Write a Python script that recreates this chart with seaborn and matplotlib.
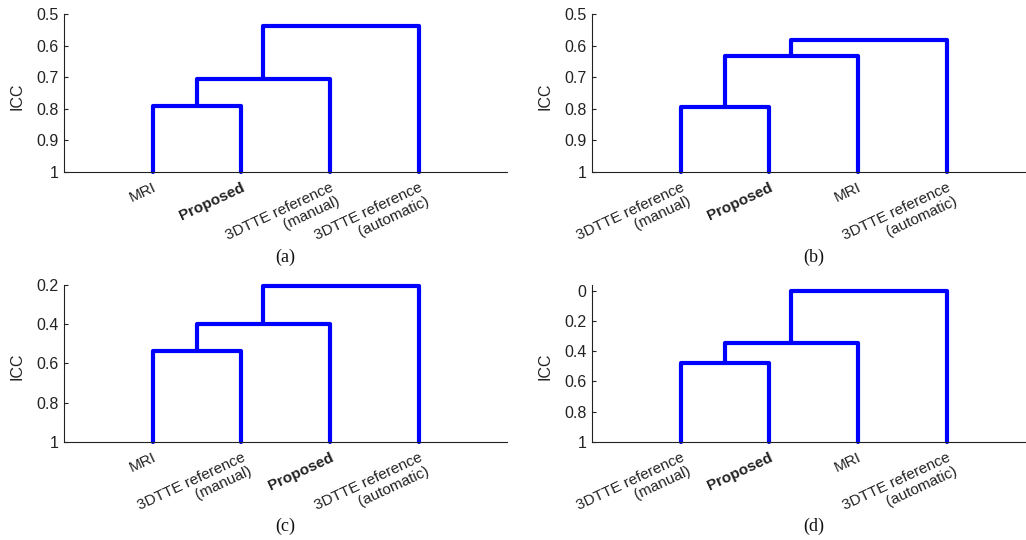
import matplotlib
matplotlib.use('Agg')
import matplotlib.pyplot as plt
import numpy as np
import pandas as pd
import seaborn as sns

sns.set_theme(style='white')
plt.rcParams['font.family'] = ['Liberation Sans', 'DejaVu Sans']

# Leaf labels of each dendrogram (left to right)
labels_a = ['MRI', 'Proposed', '3DTTE reference\n(manual)', '3DTTE reference\n(automatic)']
labels_b = ['3DTTE reference\n(manual)', 'Proposed', 'MRI', '3DTTE reference\n(automatic)']
labels_c = ['MRI', '3DTTE reference\n(manual)', 'Proposed', '3DTTE reference\n(automatic)']
labels_d = ['3DTTE reference\n(manual)', 'Proposed', 'MRI', '3DTTE reference\n(automatic)']

# Merge heights (ICC) : leaf0+leaf1, then +leaf2, then +leaf3
icc_a = [0.792, 0.706, 0.537]
icc_b = [0.795, 0.634, 0.583]
icc_c = [0.535, 0.399, 0.203]
icc_d = [0.477, 0.347, 0.0]

# y-axis ticks per panel
ticks_ab = [0.5, 0.6, 0.7, 0.8, 0.9, 1.0]
ticklabels_ab = ['0.5', '0.6', '0.7', '0.8', '0.9', '1']
ticks_c = [0.2, 0.4, 0.6, 0.8, 1.0]
ticklabels_c = ['0.2', '0.4', '0.6', '0.8', '1']
ticks_d = [0.0, 0.2, 0.4, 0.6, 0.8, 1.0]
ticklabels_d = ['0', '0.2', '0.4', '0.6', '0.8', '1']

captions = ['(a)', '(b)', '(c)', '(d)']


def dendro_segments(heights):
    # chain linkage: (0,1) -> (c,2) -> (c,3); leaves sit at x = 1..4, base ICC = 1
    rows = []
    left_x, left_y = 1.0, 1.0
    for k, h in enumerate(heights):
        right_x, right_y = float(k + 2), 1.0
        rows += [(k, left_x, left_y), (k, left_x, h), (k, right_x, h), (k, right_x, right_y)]
        left_x, left_y = (left_x + right_x) / 2, h
    return pd.DataFrame(rows, columns=['link', 'x', 'y'])


def draw_panel(ax, labels, heights, ticks, ticklabels, ylim, caption):
    seg = dendro_segments(heights)
    sns.lineplot(data=seg, x='x', y='y', units='link', estimator=None, sort=False,
                 color='#0000ff', linewidth=3, ax=ax, clip_on=False)
    ax.set_xlim(0, 5)
    ax.set_ylim(*ylim)
    ax.set_yticks(ticks)
    ax.set_yticklabels(ticklabels, fontsize=11.5, color='#222222')
    ax.set_xticks([1, 2, 3, 4])
    ax.set_xticklabels(labels, rotation=25, ha='right', va='top',
                       rotation_mode='anchor', fontsize=11, color='#222222',
                       linespacing=1.1)
    for t in ax.get_xticklabels():
        if t.get_text() == 'Proposed':
            t.set_fontweight('bold')
    ax.tick_params(axis='y', direction='in', length=3, width=0.8, pad=4,
                   left=True, color='#222222')
    ax.tick_params(axis='x', length=0, pad=6)
    ax.set_xlabel('')
    ax.set_ylabel('ICC', fontsize=11.5, color='#222222')
    ax.yaxis.set_label_coords(-0.105, 0.48)
    ax.yaxis.label.set_va('center')
    for s in ['top', 'right']:
        ax.spines[s].set_visible(False)
    for s in ['left', 'bottom']:
        ax.spines[s].set_color('#222222')
        ax.spines[s].set_linewidth(0.8)
    ax.text(0.5, -0.54, caption, transform=ax.transAxes, ha='center', va='center',
            fontsize=13, family='Liberation Serif', color='#111111')


fig = plt.figure(figsize=(10.26, 5.4), dpi=100)
ax_a = fig.add_axes([0.0624, 0.682, 0.432, 0.292])
ax_b = fig.add_axes([0.577, 0.682, 0.432, 0.292])
ax_c = fig.add_axes([0.0624, 0.182, 0.432, 0.290])
ax_d = fig.add_axes([0.577, 0.182, 0.432, 0.290])

draw_panel(ax_a, labels_a, icc_a, ticks_ab, ticklabels_ab, (1.0, 0.5), captions[0])
draw_panel(ax_b, labels_b, icc_b, ticks_ab, ticklabels_ab, (1.0, 0.5), captions[1])
draw_panel(ax_c, labels_c, icc_c, ticks_c, ticklabels_c, (1.0, 0.2), captions[2])
draw_panel(ax_d, labels_d, icc_d, ticks_d, ticklabels_d, (1.0, -0.04), captions[3])

fig.savefig('out.png', dpi=100)
